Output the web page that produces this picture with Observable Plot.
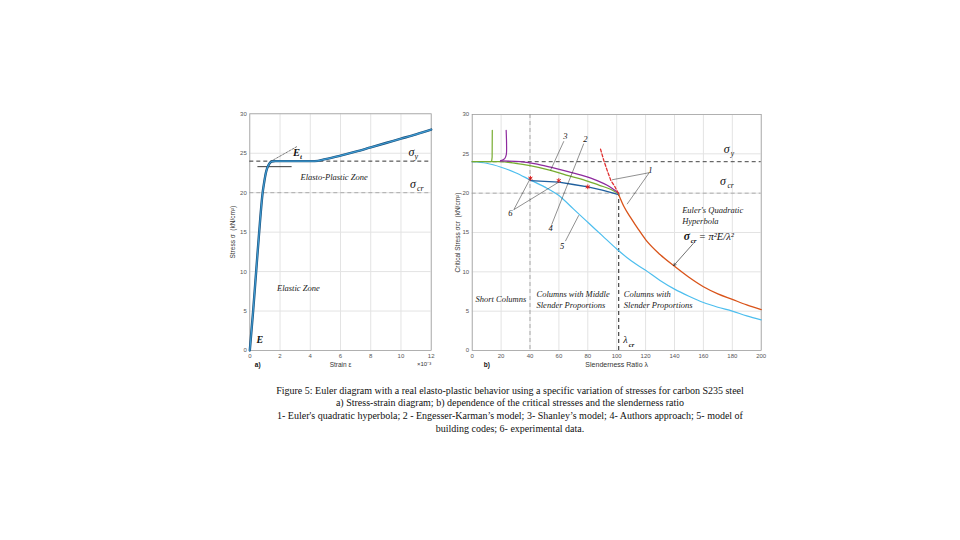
<!DOCTYPE html>
<html><head><meta charset="utf-8">
<script src="https://cdn.jsdelivr.net/npm/d3@7"></script>
<script src="https://cdn.jsdelivr.net/npm/@observablehq/plot@0.6"></script>
<style>
html,body{margin:0;padding:0;background:#fff;}
body{width:960px;height:540px;overflow:hidden;position:relative;}
#a{position:absolute;left:220px;top:100px;}
#b{position:absolute;left:450px;top:100px;}
#cap{position:absolute;left:0;width:1020px;top:384.6px;text-align:center;font-family:"Liberation Serif",serif;font-size:10px;line-height:12.7px;color:#111;white-space:nowrap;}
</style></head>
<body>
<div id="a"></div><div id="b"></div>
<div id="cap"></div>
<script>
// ---------- Panel a) stress-strain data ----------
const strainTicks = [0,2,4,6,8,10,12];
const stressTicks = [0,5,10,15,20,25,30];
const curveStrain = [0,0.22,0.42,0.62,0.85,0.95,1.05,1.15,1.3,1.45,1.7,4.3,5,6,7,8,9,10,11,12];
const curveStress = [0,5,10,15,20,21.3,22.4,23.1,23.7,23.95,24.0,24.0,24.25,24.7,25.2,25.75,26.3,26.85,27.4,28];
const sigmaY = 24, sigmaCr = 20;
const horizStrain = [0.53,2.74], horizStress = [23.3,23.3];
const tangentStrain = [1.37,3.13], tangentStress = [23.95,25.86];

// ---------- Panel b) critical stress data ----------
const lambdaTicks = [0,20,40,60,80,100,120,140,160,180,200];
const critTicks = [0,5,10,15,20,25,30];
const eulerLambda = [101.4,105,110,115,120,130,140,150,160,170,180,190,200];
const eulerSigma  = [19.8,18.3,16.8,15.4,14.1,12.2,10.7,9.3,8.1,7.2,6.5,5.8,5.2];
const eulerExtLambda = [88.8,91,93.4,96,98.5,101.4];
const eulerExtSigma  = [25.6,24.2,22.9,21.6,20.9,19.9];
const codeLambda = [0,10,20,30,40,50,60,70,80,90,100,110,120,130,140,150,160,170,180,190,200];
const codeSigma  = [24,23.8,23.3,22.6,21.7,20.8,19.7,18.0,16.3,14.6,12.9,11.4,10.2,8.9,7.8,6.9,6.1,5.5,5.0,4.4,3.9];
const greenLambda = [0,10,19.6,30,40,54.2,65,77.2,88,95.7,101.4];
const greenSigma  = [24,24,24.0,23.8,23.5,22.9,22.3,21.7,21.0,20.5,19.9];
const greenSpikeLambda = [12.5,13.5,13.8,13.9];
const greenSpikeSigma  = [24.0,24.1,24.6,28.0];
const purpleLambda = [19.6,33.4,45,54.2,65,77.2,86.5,93.4,101.4];
const purpleSigma  = [24.1,24.0,23.7,23.3,22.8,22.2,21.6,21.0,20.0];
const purpleSpikeLambda = [19.6,22.5,23.6,23.8,23.5];
const purpleSpikeSigma  = [24.1,24.4,24.9,26.0,28.0];
const blueLambda = [40.3,50,60,70,80,90,101.4];
const blueSigma  = [21.6,21.5,21.4,21.1,20.8,20.4,19.8];
const expLambda = [40.3,59.9,80];
const expSigma  = [21.9,21.6,20.8];
const lambdaCr = 101.4, sigmaAtCr = 19.8, middleLimit = 40;

const zip = (xs, ys) => xs.map((x,i)=>({x, y: ys[i]}));

// annotation leader lines (data space)
const leaderB = [
  {x1:122.5,y1:22.6,x2:96.8,y2:21.7},
  {x1:122.5,y1:22.6,x2:107.2,y2:18.6},
  {x1:63.4,y1:26.6,x2:54.2,y2:22.9},
  {x1:77.2,y1:26.3,x2:55.0,y2:16.0},
  {x1:64.5,y1:13.9,x2:73.8,y2:17.2},
  {x1:28.8,y1:17.9,x2:40.3,y2:21.9},
  {x1:28.8,y1:17.9,x2:59.9,y2:21.4}
];
const numLabels = [
  {x:123.3,y:22.9,t:"1"},{x:64.5,y:27.2,t:"3"},{x:78.4,y:26.8,t:"2"},
  {x:54.2,y:15.5,t:"4"},{x:62.3,y:13.3,t:"5"},{x:26.5,y:17.4,t:"6"}
];

const serif = "Liberation Serif";
const sans = "Liberation Sans";
const gridCol = "#e3e3e3";
const tickStyle = {fontFamily: sans, fontSize: 6, fill: "#555"};
const ital = {fontFamily: serif, fontStyle: "italic", fill: "#222", textAnchor: "start"};
const under = {lineAnchor: "middle", dy: 14, fontFamily: sans, fill: "#333"};

// ---------- Panel a ----------
const pa = Plot.plot({
  width: 220, height: 270,
  marginLeft: 29.3, marginRight: 9.3, marginTop: 13.3, marginBottom: 20,
  style: {background: "transparent", overflow: "visible", fontFamily: sans},
  x: {domain: [0,12]},
  y: {domain: [0,30]},
  marks: [
    Plot.gridX(strainTicks, {stroke: gridCol, strokeOpacity: 1}),
    Plot.gridY(stressTicks, {stroke: gridCol, strokeOpacity: 1}),
    Plot.frame({stroke: "#9a9a9a", strokeWidth: 0.7}),
    Plot.axisX(strainTicks, {tickSize: 0, tickPadding: 3, label: null, ...tickStyle}),
    Plot.axisY(stressTicks, {tickSize: 0, tickPadding: 3, label: null, ...tickStyle}),
    Plot.ruleY([sigmaCr], {stroke: "#9a9a9a", strokeWidth: 0.8, strokeDasharray: "4,3"}),
    Plot.ruleY([sigmaY], {stroke: "#333", strokeWidth: 1, strokeDasharray: "4,3"}),
    Plot.line(zip(horizStrain, horizStress), {x: "x", y: "y", stroke: "#222", strokeWidth: 0.9}),
    Plot.line(zip(tangentStrain, tangentStress), {x: "x", y: "y", stroke: "#222", strokeWidth: 0.6, strokeDasharray: "2,1.5"}),
    Plot.line(zip(curveStrain, curveStress), {x: "x", y: "y", stroke: "#1b4f7a", strokeWidth: 2.4, curve: "monotone-x"}),
    Plot.line(zip(curveStrain, curveStress), {x: "x", y: "y", stroke: "#3d9ad1", strokeWidth: 1.2, curve: "monotone-x"}),
    // labels
    Plot.text(["σ"], {x: 10.5, y: 25.2, text: d=>d, ...ital, fontSize: 12, fill: "#111"}),
    Plot.text(["y"], {x: 10.5, y: 25.2, text: d=>d, dx: 6, dy: 4.5, ...ital, fontSize: 8, fill: "#111"}),
    Plot.text(["σ"], {x: 10.6, y: 21.1, text: d=>d, ...ital, fontSize: 12, fill: "#111"}),
    Plot.text(["cr"], {x: 10.6, y: 21.1, text: d=>d, dx: 7, dy: 4.5, ...ital, fontSize: 8, fill: "#111"}),
    Plot.text(["E"], {x: 2.85, y: 25.1, text: d=>d, ...ital, fontWeight: "bold", fontSize: 10.5, fill: "#111"}),
    Plot.text(["t"], {x: 2.85, y: 25.1, text: d=>d, dx: 7, dy: 4, ...ital, fontWeight: "bold", fontSize: 7, fill: "#111"}),
    Plot.text(["Elasto-Plastic Zone"], {x: 3.35, y: 22.0, text: d=>d, ...ital, fontSize: 8.5}),
    Plot.text(["Elastic Zone"], {x: 1.8, y: 7.9, text: d=>d, ...ital, fontSize: 8.5}),
    Plot.text(["E"], {x: 0.45, y: 1.3, text: d=>d, ...ital, fontWeight: "bold", fontSize: 10, fill: "#111"}),
    // axis titles
    Plot.text(["Strain ε"], {frameAnchor: "bottom", text: d=>d, ...under, fontSize: 6.5}),
    Plot.text(["×10⁻³"], {frameAnchor: "bottom-right", text: d=>d, ...under, fontSize: 6, textAnchor: "end"}),
    Plot.text(["a)"], {frameAnchor: "bottom-left", dx: 5, text: d=>d, ...under, fontWeight: "bold", fontSize: 6.5, fill: "#111", textAnchor: "start"}),
    Plot.text(["Stress σ  (kN/cm²)"], {frameAnchor: "left", dx: -17, rotate: -90, textAnchor: "middle", lineAnchor: "middle", text: d=>d, fontFamily: sans, fontSize: 6.5, fill: "#333"})
  ]
});
document.getElementById("a").appendChild(pa);

// ---------- Panel b ----------
const pb = Plot.plot({
  width: 320, height: 270,
  marginLeft: 21.7, marginRight: 9.3, marginTop: 14, marginBottom: 20,
  style: {background: "transparent", overflow: "visible", fontFamily: sans},
  x: {domain: [0,200]},
  y: {domain: [0,30]},
  marks: [
    Plot.gridX(lambdaTicks, {stroke: gridCol, strokeOpacity: 1}),
    Plot.gridY(critTicks, {stroke: gridCol, strokeOpacity: 1}),
    Plot.frame({stroke: "#9a9a9a", strokeWidth: 0.7}),
    Plot.axisX(lambdaTicks, {tickSize: 0, tickPadding: 3, label: null, ...tickStyle}),
    Plot.axisY(critTicks, {tickSize: 0, tickPadding: 3, label: null, ...tickStyle}),
    Plot.ruleY([sigmaCr], {stroke: "#9a9a9a", strokeWidth: 0.8, strokeDasharray: "4,3"}),
    Plot.ruleY([sigmaY], {stroke: "#444", strokeWidth: 1, strokeDasharray: "4,3"}),
    Plot.ruleX([middleLimit], {stroke: "#8a8a8a", strokeWidth: 0.7, strokeDasharray: "4,3"}),
    Plot.ruleX([{x: lambdaCr, y1: 0, y2: sigmaAtCr}], {x: "x", y1: "y1", y2: "y2", stroke: "#222", strokeWidth: 1, strokeDasharray: "4,3"}),
    Plot.line(zip(codeLambda, codeSigma), {x: "x", y: "y", stroke: "#4dbeee", strokeWidth: 1.2, curve: "monotone-x"}),
    Plot.line(zip(blueLambda, blueSigma), {x: "x", y: "y", stroke: "#1f5f9e", strokeWidth: 1.3}),
    Plot.line(zip(greenLambda, greenSigma), {x: "x", y: "y", stroke: "#77ac30", strokeWidth: 1.3, curve: "monotone-x"}),
    Plot.line(zip(greenSpikeLambda, greenSpikeSigma), {x: "x", y: "y", stroke: "#77ac30", strokeWidth: 1.2}),
    Plot.line(zip(purpleLambda, purpleSigma), {x: "x", y: "y", stroke: "#8e2a9e", strokeWidth: 1.3, curve: "monotone-x"}),
    Plot.line(zip(purpleSpikeLambda, purpleSpikeSigma), {x: "x", y: "y", stroke: "#8e2a9e", strokeWidth: 1.2, curve: "catmull-rom"}),
    Plot.line(zip(eulerLambda, eulerSigma), {x: "x", y: "y", stroke: "#d95319", strokeWidth: 1.3, curve: "monotone-x"}),
    Plot.line(zip(eulerExtLambda, eulerExtSigma), {x: "x", y: "y", stroke: "#e03030", strokeWidth: 1.3, strokeDasharray: "3,2"}),
    Plot.dot(zip(expLambda, expSigma), {x: "x", y: "y", symbol: "asterisk", r: 2.2, stroke: "#e02020", strokeWidth: 1}),
    Plot.link(leaderB, {x1: "x1", y1: "y1", x2: "x2", y2: "y2", stroke: "#222", strokeWidth: 0.5}),
    Plot.text(numLabels, {x: "x", y: "y", text: "t", fontFamily: serif, fontStyle: "italic", fontSize: 8.5, fill: "#111"}),
    Plot.arrow([{x1: 153, y1: 13.6, x2: 139.5, y2: 10.8}], {x1: "x1", y1: "y1", x2: "x2", y2: "y2", stroke: "#111", strokeWidth: 0.6, headLength: 6}),
    // text labels
    Plot.text(["σ"], {x: 174, y: 25.6, text: d=>d, ...ital, fontSize: 12, fill: "#111"}),
    Plot.text(["y"], {x: 174, y: 25.6, text: d=>d, dx: 7, dy: 4, ...ital, fontSize: 7.5, fill: "#111"}),
    Plot.text(["σ"], {x: 171.5, y: 21.5, text: d=>d, ...ital, fontSize: 12, fill: "#111"}),
    Plot.text(["cr"], {x: 171.5, y: 21.5, text: d=>d, dx: 7.5, dy: 4, ...ital, fontSize: 7.5, fill: "#111"}),
    Plot.text(["Euler's Quadratic", "Hyperbola"], {x: 145.3, y: [17.8, 16.4], text: d=>d, ...ital, fontSize: 8.5}),
    Plot.text(["σ"], {x: 146.4, y: 14.5, text: d=>d, ...ital, fontWeight: "bold", fontSize: 11.5, fill: "#111"}),
    Plot.text(["cr"], {x: 146.4, y: 14.5, text: d=>d, dx: 7, dy: 4.5, ...ital, fontWeight: "bold", fontSize: 7, fill: "#111"}),
    Plot.text(["= π²E/λ²"], {x: 146.4, y: 14.5, text: d=>d, dx: 15, ...ital, fontSize: 10.5, fill: "#111"}),
    Plot.text(["Short Columns"], {x: 2.3, y: 6.57, text: d=>d, ...ital, fontSize: 8.5}),
    Plot.text(["Columns with Middle", "Slender Proportions"], {x: 44.5, y: [7.2, 5.8], text: d=>d, ...ital, fontSize: 8.5}),
    Plot.text(["Columns with", "Slender Proportions"], {x: 104.9, y: [7.2, 5.8], text: d=>d, ...ital, fontSize: 8.5}),
    Plot.text(["λ"], {x: 104.6, y: 1.4, text: d=>d, ...ital, fontSize: 10, fill: "#111"}),
    Plot.text(["cr"], {x: 104.6, y: 1.4, text: d=>d, dx: 5.5, dy: 5, ...ital, fontWeight: "bold", fontSize: 6.5, fill: "#111"}),
    // axis titles
    Plot.text(["Slenderness Ratio λ"], {frameAnchor: "bottom", text: d=>d, ...under, fontSize: 7}),
    Plot.text(["b)"], {frameAnchor: "bottom-left", dx: 11.5, text: d=>d, ...under, fontWeight: "bold", fontSize: 6.5, fill: "#111", textAnchor: "start"}),
    Plot.text(["Critical Stress σcr  (kN/cm²)"], {frameAnchor: "left", dx: -14.7, rotate: -90, textAnchor: "middle", lineAnchor: "middle", text: d=>d, fontFamily: sans, fontSize: 6.5, fill: "#333"})
  ]
});
document.getElementById("b").appendChild(pb);

// ---------- caption ----------
const captionLines = [
  "Figure 5: Euler diagram with a real elasto-plastic behavior using a specific variation of  stresses for carbon S235 steel",
  "a) Stress-strain diagram; b) dependence of the critical stresses and the slenderness ratio",
  "1- Euler's quadratic hyperbola; 2 - Engesser-Karman’s model; 3-  Shanley’s model; 4-  Authors approach; 5- model of",
  "building codes; 6- experimental data."
];
const cap = document.getElementById("cap");
captionLines.forEach(t => { const d = document.createElement("div"); d.textContent = t; cap.appendChild(d); });
</script>
</body></html>
